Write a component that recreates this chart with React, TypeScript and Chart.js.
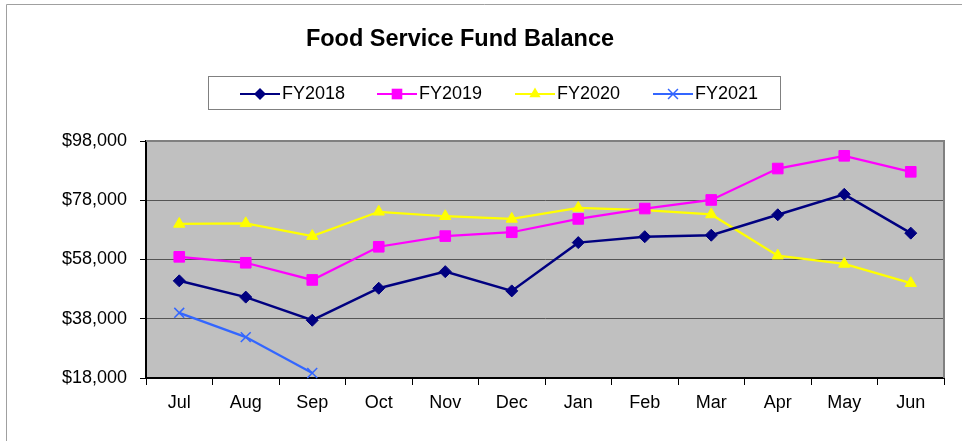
import React, { useEffect, useRef } from "react";
import { Chart, registerables } from "chart.js";

Chart.register(...registerables);

const months = ["Jul", "Aug", "Sep", "Oct", "Nov", "Dec", "Jan", "Feb", "Mar", "Apr", "May", "Jun"];
const fy2018 = [50800, 45300, 37500, 48300, 53900, 47400, 63700, 65700, 66200, 73100, 80000, 66900];
const fy2019 = [58900, 56900, 51100, 62300, 65900, 67200, 71700, 75200, 78100, 88700, 93000, 87600];
const fy2020 = [70000, 70200, 65900, 74100, 72600, 71700, 75400, 74700, 73200, 59300, 56500, 50000];
const fy2021 = [40000, 31800, 19700, null, null, null, null, null, null, null, null, null];
const yTicks = [18000, 38000, 58000, 78000, 98000];
const titleText = "Food Service Fund Balance";
const seriesNames = ["FY2018", "FY2019", "FY2020", "FY2021"];

const FONT = "'Liberation Sans', Arial, sans-serif";
const colors = ["#000080", "#FF00FF", "#FFFF00", "#3366FF"];
const styles = ["rectRot", "rect", "triangle", "crossRot"];
const radii = [6, 7.5, 6.5, 7];

function drawMarker(ctx: CanvasRenderingContext2D, style: string, x: number, y: number, r: number, color: string) {
  ctx.save();
  ctx.fillStyle = color;
  ctx.strokeStyle = color;
  ctx.lineWidth = 1.5;
  ctx.beginPath();
  if (style === "rectRot") {
    ctx.moveTo(x - r, y);
    ctx.lineTo(x, y - r);
    ctx.lineTo(x + r, y);
    ctx.lineTo(x, y + r);
    ctx.closePath();
    ctx.fill();
  } else if (style === "rect") {
    const s = r * Math.SQRT1_2;
    ctx.rect(x - s, y - s, 2 * s, 2 * s);
    ctx.fill();
  } else if (style === "triangle") {
    let a = 0;
    ctx.moveTo(x + Math.sin(a) * r, y - Math.cos(a) * r);
    a += (2 * Math.PI) / 3;
    ctx.lineTo(x + Math.sin(a) * r, y - Math.cos(a) * r);
    a += (2 * Math.PI) / 3;
    ctx.lineTo(x + Math.sin(a) * r, y - Math.cos(a) * r);
    ctx.closePath();
    ctx.fill();
  } else {
    const o = Math.cos(Math.PI / 4) * r;
    ctx.moveTo(x - o, y - o);
    ctx.lineTo(x + o, y + o);
    ctx.moveTo(x + o, y - o);
    ctx.lineTo(x - o, y + o);
    ctx.stroke();
  }
  ctx.restore();
}

const decorPlugin = {
  id: "decor",
  beforeDraw(chart: any) {
    const { ctx, chartArea: a } = chart;
    ctx.save();
    ctx.fillStyle = "#C0C0C0";
    ctx.fillRect(a.left, a.top, a.right - a.left, a.bottom - a.top);
    ctx.restore();
  },
  beforeDatasetsDraw(chart: any) {
    const { ctx, chartArea: a } = chart;
    ctx.save();
    ctx.strokeStyle = "#808080";
    ctx.lineWidth = 2;
    ctx.beginPath();
    ctx.moveTo(a.left, a.top);
    ctx.lineTo(a.right, a.top);
    ctx.lineTo(a.right, a.bottom);
    ctx.stroke();
    ctx.restore();
  },
  afterDraw(chart: any) {
    const { ctx } = chart;
    ctx.save();
    // outer frame
    ctx.strokeStyle = "#A0A0A0";
    ctx.lineWidth = 1;
    ctx.beginPath();
    ctx.moveTo(6.5, 460);
    ctx.lineTo(6.5, 4.5);
    ctx.lineTo(980, 4.5);
    ctx.stroke();
    // title
    ctx.fillStyle = "#000";
    ctx.font = `bold 23.5px ${FONT}`;
    ctx.textAlign = "center";
    ctx.textBaseline = "middle";
    ctx.fillText(titleText, 460, 39.5);
    // legend box
    ctx.strokeStyle = "#808080";
    ctx.strokeRect(208.5, 76.5, 572, 33);
    const lx = [240, 377, 515, 653];
    const ly = 94;
    ctx.font = `18px ${FONT}`;
    ctx.textAlign = "left";
    for (let i = 0; i < 4; i++) {
      ctx.strokeStyle = colors[i];
      ctx.lineWidth = 2;
      ctx.beginPath();
      ctx.moveTo(lx[i], ly);
      ctx.lineTo(lx[i] + 40, ly);
      ctx.stroke();
      drawMarker(ctx, styles[i], lx[i] + 20, ly, radii[i], colors[i]);
      ctx.fillStyle = "#000";
      ctx.fillText(seriesNames[i], lx[i] + 42, ly);
    }
    ctx.restore();
  },
};

export default function App() {
  const ref = useRef<HTMLCanvasElement>(null);
  useEffect(() => {
    if (!ref.current) return;
    const all = [fy2018, fy2019, fy2020, fy2021];
    const chart = new Chart(ref.current, {
      type: "line",
      data: {
        labels: months,
        datasets: all.map((d, i) => ({
          label: seriesNames[i],
          data: d,
          borderColor: colors[i],
          backgroundColor: colors[i],
          borderWidth: i === 0 ? 2.5 : 2.25,
          pointStyle: styles[i] as any,
          pointRadius: radii[i],
          pointBorderWidth: i === 3 ? 1.5 : 1,
          pointBorderColor: colors[i],
          pointBackgroundColor: colors[i],
          tension: 0,
          spanGaps: false,
          clip: false as any,
        })),
      },
      options: {
        responsive: false,
        animation: false,
        layout: { padding: { left: 0, right: 18, top: 141, bottom: 0 } },
        plugins: {
          legend: { display: false },
          title: { display: false },
          tooltip: { enabled: false },
        },
        scales: {
          x: {
            offset: true,
            grid: {
              display: true,
              drawOnChartArea: false,
              drawTicks: true,
              tickLength: 7,
              offset: true,
              color: "#000",
              tickColor: "#000",
            },
            border: { display: true, color: "#000", width: 2 },
            ticks: { font: { family: FONT, size: 18 }, color: "#000", padding: 7, maxRotation: 0, autoSkip: false },
            afterFit: (s: any) => {
              s.height = 63;
            },
          },
          y: {
            min: 18000,
            max: 98000,
            afterBuildTicks: (s: any) => {
              s.ticks = yTicks.map((v) => ({ value: v }));
            },
            grid: {
              display: true,
              drawTicks: true,
              tickLength: 6,
              color: "#555",
              tickColor: "#000",
              lineWidth: 1,
            },
            border: { display: true, color: "#000", width: 2 },
            ticks: {
              font: { family: FONT, size: 18 },
              color: "#000",
              padding: 13,
              callback: (v: any) => "$" + Number(v).toLocaleString("en-US"),
            },
            afterFit: (s: any) => {
              s.width = 146;
            },
          },
        },
      },
      plugins: [decorPlugin],
    });
    return () => chart.destroy();
  }, []);
  return (
    <div style={{ position: "fixed", left: 0, top: 0, width: 962, height: 441, background: "#fff" }}>
      <canvas ref={ref} width={962} height={441} style={{ display: "block" }} />
    </div>
  );
}
